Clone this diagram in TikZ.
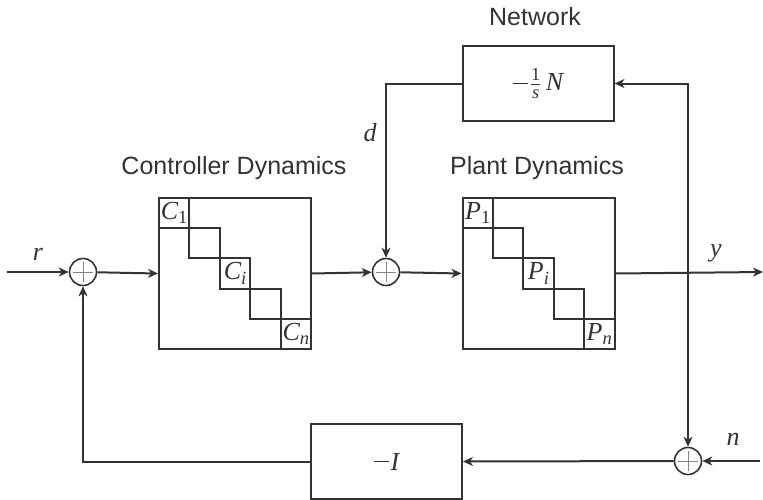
\documentclass[tikz,border=0pt]{standalone}
\usepackage{fontspec}
\newfontfamily\labfont{Liberation Sans}
\newfontfamily\tim{Liberation Serif}
\usetikzlibrary{arrows.meta,calc}
\definecolor{ink}{HTML}{333333}
\newcommand{\subsz}{\fontsize{18.5}{20}\selectfont}
\newcommand{\mv}[2]{{\itshape #1}\raisebox{-4.5pt}{\subsz #2}}
\newcommand{\mminus}[1]{\raisebox{#1}{\rule{0.58em}{0.9pt}}\kern2pt}
\tikzset{
  blk/.style={draw=ink, line width=2pt, minimum width=152pt, minimum height=151pt, inner sep=0pt, anchor=north west},
  wide/.style={draw=ink, line width=2pt, minimum width=151pt, minimum height=75pt, inner sep=0pt, anchor=north west, font=\tim\fontsize{26}{30}\selectfont, text=ink},
  cell/.style={draw=ink, line width=2pt, minimum width=30.4pt, minimum height=30.2pt, inner sep=0pt, anchor=north west, font=\tim\fontsize{26}{30}\selectfont, text=ink},
  sumnode/.style={draw=ink, line width=1.6pt, circle, minimum size=27pt, inner sep=0pt},
  conn/.style={draw=ink, line width=2pt, -{Stealth[length=10pt,width=9pt,inset=3pt]}},
  title/.style={font=\labfont\fontsize{25}{30}\selectfont, text=ink},
  sig/.style={font=\tim\itshape\fontsize{26}{30}\selectfont, text=ink},
}
\newcommand{\plussign}[1]{%
  \draw[ink!60, line width=0.9pt] ($(#1)+(-10pt,0)$) -- ($(#1)+(10pt,0)$);
  \draw[ink!60, line width=0.9pt] ($(#1)+(0,-10pt)$) -- ($(#1)+(0,10pt)$);}
\begin{document}
\begin{tikzpicture}[x=1pt,y=-1pt]
\useasboundingbox (0,0) rectangle (763,499);

% blocks
\node[blk] (ctrl) at (158,197) {};
\node[blk] (plant) at (461.5,197) {};
\node[wide] (net) at (461.5,45) {\mminus{6.4pt}$\frac{\hbox{\tim\subsz 1}}{\hbox{\tim\itshape\subsz s}}$\,{\itshape N}};
\node[wide] (negI) at (310,423) {\mminus{7.8pt}{\itshape I}};

% diagonal cells
\foreach \i/\lab in {0/{\mv{C}{1}},1/{},2/{\mv{C}{\itshape i}},3/{},4/{\mv{C}{\itshape n}}} {
  \node[cell] (c\i) at ($(158,197)+(\i*30.4,\i*30.2)$) {\lab};
}
\foreach \i/\lab in {0/{\mv{P}{1}},1/{},2/{\mv{P}{\itshape i}},3/{},4/{\mv{P}{\itshape n}}} {
  \node[cell] (p\i) at ($(461.5,197)+(\i*30.4,\i*30.2)$) {\lab};
}

% titles
\node[title] (tctrl) at (234,168) {Controller Dynamics};
\node[title] (tplant) at (537,168) {Plant Dynamics};
\node[title] (tnet) at (535,17) {Network};

% summing junctions
\node[sumnode] (s1) at (83,272) {};
\node[sumnode] (s2) at (386,272) {};
\node[sumnode] (s3) at (688,461) {};
\plussign{s1}
\plussign{s2}
\plussign{s3}

% coordinates
\coordinate (rin) at (7,272);
\coordinate (yout) at (763,272);
\coordinate (br) at (688,272);
\coordinate (nin) at (760,461);

% signal labels
\node[sig] (lr) at (38,254) {r};
\node[sig] (ld) at (370,133) {d};
\node[sig] (ly) at (716,253) {y};
\node[sig] (ln) at (733,439) {n};

% connectors
\draw[conn] (rin) -- (s1);
\draw[conn] (s1) -- (ctrl.west);
\draw[conn] (ctrl.east) -- (s2);
\draw[conn] (s2) -- (plant.west);
\draw[conn] (plant.east) -- (yout);
\draw[conn] (br) |- (net.east);
\draw[conn] (br) -- (s3);
\draw[conn] (nin) -- (s3);
\draw[conn] (s3) -- (negI.east);
\draw[conn] (negI.west) -| (s1);
\draw[conn] (net.west) -| (s2);
\end{tikzpicture}
\end{document}
